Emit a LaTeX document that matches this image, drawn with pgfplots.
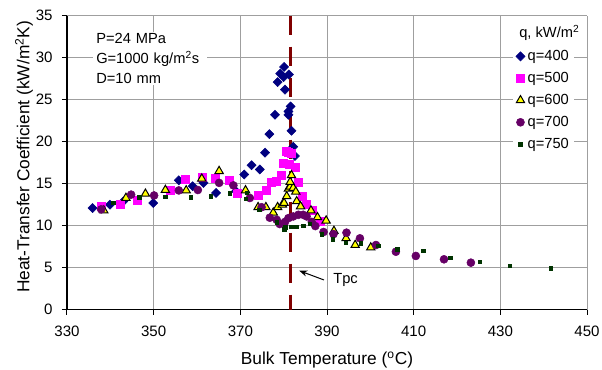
\documentclass[border=0pt]{standalone}
\usepackage{pgfplots}
\pgfplotsset{compat=1.18}
\usepackage{fontspec}
\setmainfont{Liberation Sans}
\usetikzlibrary{arrows.meta}
\definecolor{qnavy}{HTML}{000080}
\definecolor{qmag}{HTML}{FF00FF}
\definecolor{qyel}{HTML}{FFFF00}
\definecolor{qpur}{HTML}{660066}
\definecolor{qgrn}{HTML}{003300}
\definecolor{tpccol}{HTML}{800000}
\begin{document}
\begin{tikzpicture}
\useasboundingbox (-50.25pt,-44.475pt) rectangle (401.25pt,232.275pt);
\begin{axis}[
  scale only axis, width=390pt, height=220.5pt,
  xmin=330, xmax=450, ymin=0, ymax=35,
  xtick={330,350,...,450}, ytick={0,5,...,35},
  axis lines=left, axis line style={-, line width=1pt, black},
  grid=major, major grid style={gray!75, line width=0.6pt},
  tick align=outside, major tick length=3.75pt, tick style={black, line width=0.75pt},
  /pgf/number format/assume math mode=true,
  tick label style={font=\fontsize{11.3}{13}\selectfont},
  xticklabel style={yshift=-5pt},
  yticklabel style={xshift=-3.5pt},
  xlabel={Bulk Temperature (\textsuperscript{o}C)},
  ylabel={Heat-Transfer Coefficient (kW/m\textsuperscript{2}K)},
  every axis x label/.style={at={(axis description cs:0.5,-0.17)}, anchor=center, font=\fontsize{13}{15}\selectfont},
  every axis y label/.style={at={(axis description cs:-0.0827,0.52)}, rotate=90, anchor=center, font=\fontsize{13}{15}\selectfont},
  legend image code/.code={\draw[mark repeat=2,mark phase=2] plot coordinates {(0pt,0pt) (2pt,0pt) (4pt,0pt)};},
  legend style={at={(axis description cs:0.8577,0.897)}, anchor=north west, draw=none, fill=white,
    font=\fontsize{11}{13}\selectfont, inner xsep=2pt, inner ysep=1pt, row sep=3.3pt},
  legend cell align=left,
]
\addplot[tpccol, line width=2.25pt, dash pattern=on 14.25pt off 9pt, forget plot] coordinates {(381.5,35) (381.5,0)};

\addplot[only marks, mark=diamond*, mark size=3.4pt, mark options={xscale=1.333, fill=qnavy, draw=qnavy}] coordinates {
(335.9,12.1) (339.9,12.5) (343.0,12.9) (349.9,12.7) (355.8,15.4) (359.0,14.7) (361.5,15.1)
(364.4,13.9) (369.0,14.1) (370.9,16.1) (372.6,17.2) (374.5,16.7) (375.7,18.7) (376.7,20.9)
(378.0,23.2) (378.6,27.1) (379.2,28.1) (380.0,27.7) (380.1,28.9) (380.3,26.2) (381.1,23.6)
(381.1,23.2) (381.2,28.0) (381.6,24.2) (381.8,21.3) (382.2,19.4) (382.6,18.3)};
\addlegendentry{q=400}

\addplot[only marks, mark=square*, mark size=3pt, mark options={fill=qmag, draw=qmag}] coordinates {
(337.9,12.35) (342.2,12.5) (346.2,13.0) (353.9,14.2) (357.3,15.5) (361.1,15.8) (364.2,15.7)
(367.5,15.4) (369.2,13.9) (374.1,13.65) (375.9,14.25) (377.2,15.2) (378.4,15.3) (379.5,16.0)
(379.9,17.4) (380.7,18.9) (381.1,18.7) (381.4,17.3) (381.8,18.6) (382.6,17.0) (383.4,15.2)
(384.2,13.5) (385.3,12.5) (386.5,11.8) (388.4,10.5)};
\addlegendentry{q=500}

\addplot[only marks, mark=triangle*, mark size=3.6pt, mark options={fill=qyel, draw=black, line width=0.75pt}] coordinates {
(338.5,11.8) (343.6,13.3) (348.1,13.8) (352.7,14.25) (357.5,14.2) (361.1,15.6) (365.1,16.5)
(371.2,14.2) (374.1,12.2) (375.9,12.2) (377.6,11.55) (378.6,12.2) (379.7,12.5) (380.1,12.7)
(380.7,13.5) (381.1,14.4) (381.5,14.65) (382.2,14.5) (382.8,14.05) (381.5,15.2) (381.8,16.0)
(383.0,12.9) (383.9,12.3) (386.3,11.8) (387.8,11.0) (389.8,10.6) (391.6,9.37) (394.4,8.5)
(396.5,7.7) (400.1,7.4)};
\addlegendentry{q=600}

\addplot[only marks, mark=*, mark size=3pt, mark options={fill=qpur, draw=qpur}] coordinates {
(337.9,11.95) (344.8,13.7) (350.1,13.6) (355.8,14.2) (360.2,14.25) (365.1,15.1) (368.4,14.8)
(372.2,13.3) (374.9,12.2) (376.8,10.95) (378.4,10.7) (379.1,10.2) (380.3,10.45) (381.1,10.9)
(382.2,11.1) (383.4,11.3) (384.5,11.3) (385.3,11.1) (386.5,10.45) (387.3,9.96) (389.2,9.25)
(391.5,9.0) (394.5,9.17) (397.6,8.5) (401.3,7.7) (405.9,6.9) (410.5,6.4) (417.0,6.0) (423.2,5.6)};
\addlegendentry{q=700}

\addplot[only marks, mark=square*, mark size=1.3pt, mark options={fill=qgrn, draw=qgrn}] coordinates {
(340.7,12.7) (346.7,13.4) (352.7,13.45) (358.5,13.4) (363.2,13.5) (367.5,13.86) (371.3,13.2)
(371.5,13.9) (374.4,11.9) (378.4,10.4) (380.1,9.6) (380.4,9.8) (381.8,9.85) (382.9,9.9)
(384.5,10.0) (386.0,10.2) (388.8,9.0) (391.3,8.4) (394.3,8.0) (397.8,7.9) (401.8,7.6)
(406.2,7.2) (412.2,7.0) (418.4,6.2) (425.2,5.7) (432.2,5.24) (441.6,4.93)};
\addlegendentry{q=750}

\node[fill=white, anchor=west, inner sep=1.5pt, font=\fontsize{11}{13}\selectfont] at (axis cs:433.85,32.94) {q, kW/m\textsuperscript{2}};
\node[fill=white, anchor=north west, align=left, text width=81pt, inner xsep=2.25pt, inner ysep=1pt,
  font=\fontsize{11}{14.8}\selectfont] at (axis cs:336.0,33.06) {P=24 MPa\\G=1000 kg/m\textsuperscript{2}s\\D=10 mm};
\draw[-{Stealth[length=6pt,width=4.5pt]}, line width=0.75pt] (axis cs:389.3,3.54) -- (axis cs:383.6,4.64);
\node[anchor=west, inner sep=0pt, font=\fontsize{11}{13}\selectfont] at (axis cs:391.4,3.54) {Tpc};
\end{axis}
\end{tikzpicture}
\end{document}
